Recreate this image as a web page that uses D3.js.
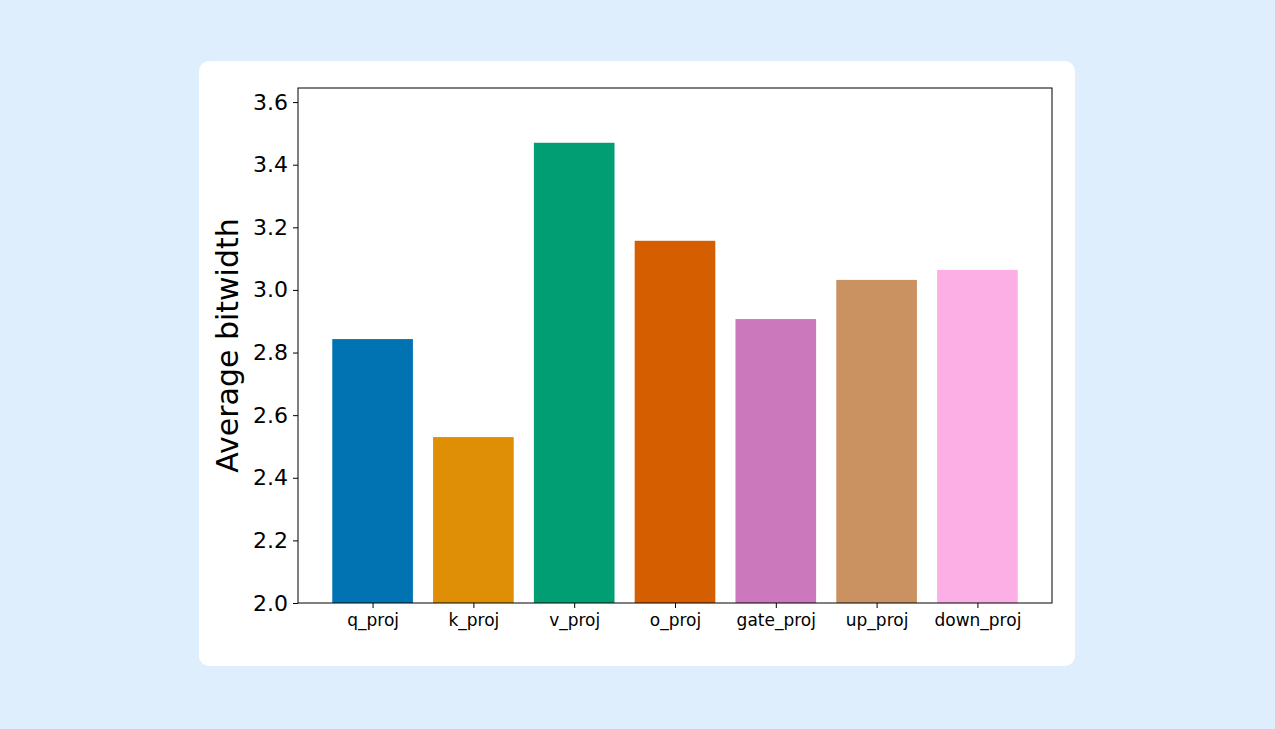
<!DOCTYPE html>
<html><head><meta charset="utf-8">
<script src="https://cdn.jsdelivr.net/npm/d3@7"></script>
<style>body{margin:0;background:#deeefc;font-family:"DejaVu Sans",sans-serif}</style>
</head><body>
<svg id="c" width="1275" height="729"></svg>
<script>
const categories=["q_proj","k_proj","v_proj","o_proj","gate_proj","up_proj","down_proj"];
const values=[2.843,2.530,3.470,3.157,2.907,3.032,3.064];
const colors=["#0173b2","#de8f05","#029e73","#d55e00","#cc78bc","#ca9161","#fbafe4"];
const yTicks=[2.0,2.2,2.4,2.6,2.8,3.0,3.2,3.4,3.6];

const svg=d3.select("#c");
svg.append("rect").attr("x",199).attr("y",61).attr("width",876).attr("height",605).attr("rx",10).attr("fill","#fff");
const L=298,R=1052,T=88,B=603;
const x=d3.scaleLinear().domain([-0.74,categories.length-1+0.74]).range([L,R]);
const y=d3.scaleLinear().domain([2.0,3.645]).range([B,T]);
const g=svg.append("g");
g.selectAll("rect.bar").data(values).join("rect").attr("class","bar")
 .attr("x",(d,i)=>x(i-0.4)).attr("width",x(0.8)-x(0)).attr("y",d=>y(d)).attr("height",d=>B-y(d))
 .attr("fill",(d,i)=>colors[i]);
g.append("rect").attr("x",L).attr("y",T).attr("width",R-L).attr("height",B-T).attr("fill","none").attr("stroke","#000").attr("stroke-width",1);
const ya=g.append("g").attr("transform",`translate(${L},0)`).call(d3.axisLeft(y).tickValues(yTicks).tickFormat(d3.format(".1f")).tickSize(5));
ya.select(".domain").remove();
ya.selectAll("text").attr("font-size",22).attr("font-family","DejaVu Sans").attr("fill","#000").attr("dx","-2");
const xa=g.append("g").attr("transform",`translate(0,${B})`).call(d3.axisBottom(x).tickValues(d3.range(categories.length)).tickFormat(i=>categories[i]).tickSize(5));
xa.select(".domain").remove();
xa.selectAll("text").attr("font-size",17).attr("font-family","DejaVu Sans").attr("fill","#000").attr("dy","0.9em");
svg.append("text").attr("transform",`translate(238,${(T+B)/2}) rotate(-90)`).attr("text-anchor","middle")
 .attr("font-size",30).attr("fill","#000").text("Average bitwidth");
</script></body></html>
